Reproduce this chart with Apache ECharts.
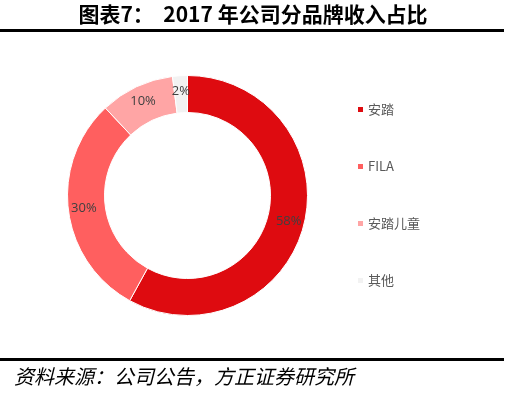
<!DOCTYPE html>
<html>
<head>
	<meta charset="utf-8">
	<title>2017年公司分品牌收入占比</title>
	<script src="https://cdn.jsdelivr.net/npm/echarts@6/dist/echarts.min.js"></script>
	<style type="text/css">
		html, body {
			margin: 0;
			padding: 0;
			background: #ffffff;
		}
		#chartContainer {
			width: 506px;
			height: 398px;
		}
	</style>
</head>
<body>
	<div id="chartContainer"></div>
	<script type="text/javascript">
		// 数据
		var brands = ['安踏', 'FILA', '安踏儿童', '其他'];
		var shares = [58, 30, 10, 2];
		var colors = ['#DE0B10', '#FF5F5F', '#FFA5A5', '#F2F2F2'];
		var titleText = '图表7：  2017 年公司分品牌收入占比';
		var sourceText = '资料来源：公司公告，方正证券研究所';

		var data = brands.map(function (name, i) {
			return { name: name, value: shares[i], itemStyle: { color: colors[i] } };
		});

		var myChart = echarts.init(document.getElementById('chartContainer'));
		var option = {
			backgroundColor: '#ffffff',
			animation: false,
			graphic: [
				{
					type: 'text',
					left: 'center',
					top: 4,
					style: {
						text: titleText,
						font: 'bold 21px "Noto Sans CJK SC"',
						fill: '#000000'
					}
				},
				{
					type: 'rect',
					shape: { x: 0, y: 29, width: 504, height: 3 },
					style: { fill: '#000000' }
				},
				{
					type: 'rect',
					shape: { x: 0, y: 358, width: 504, height: 3 },
					style: { fill: '#000000' }
				},
				{
					type: 'text',
					left: 14,
					top: 366,
					style: {
						text: sourceText,
						font: 'italic 20px "Noto Sans CJK SC"',
						fill: '#000000'
					}
				}
			],
			legend: {
				orient: 'vertical',
				left: 351,
				top: 98,
				itemWidth: 7,
				itemHeight: 7,
				itemGap: 44,
				icon: 'rect',
				textStyle: {
					color: '#595959',
					fontSize: 13,
					fontFamily: '"Noto Sans CJK SC"',
					padding: [0, 0, 0, -1]
				},
				data: brands
			},
			series: [
				{
					type: 'pie',
					center: [187.5, 195.5],
					radius: [83, 120],
					startAngle: 90,
					clockwise: true,
					silent: true,
					itemStyle: {
						borderColor: '#ffffff',
						borderWidth: 1
					},
					label: {
						position: 'inside',
						formatter: '{c}%',
						color: '#404040',
						fontSize: 13,
						fontFamily: '"Open Sans"'
					},
					labelLine: { show: false },
					data: data
				}
			]
		};
		myChart.setOption(option);
	</script>
</body>
</html>
